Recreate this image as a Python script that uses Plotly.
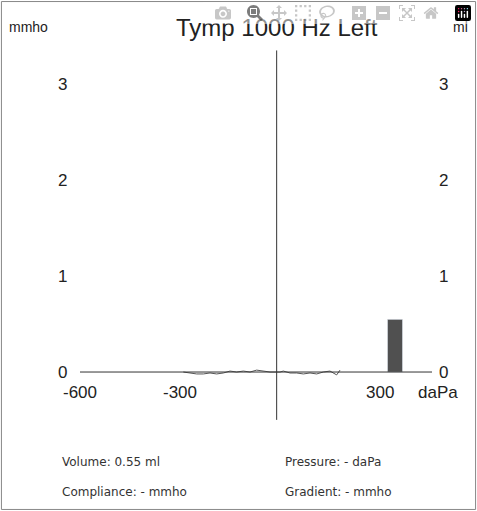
import plotly.graph_objects as go

# trace near baseline (daPa, mmho)
pressure = [-290, -270, -250, -230, -210, -190, -170, -150, -130, -110, -90, -70, -50, -30, -10, 0,
            10, 30, 50, 70, 90, 110, 130, 150, 170, 180]
compliance = [0.0, -0.01, -0.02, -0.02, -0.01, -0.02, -0.01, 0.01, 0.0, 0.01, 0.0, 0.02, 0.01, 0.0, 0.0, 0.0,
              0.01, -0.01, -0.01, -0.02, -0.01, -0.02, 0.0, 0.01, -0.03, 0.02]
volume_x = [345]
volume_ml = [0.55]
y_ticks = [0, 1, 2, 3]
x_ticks = [-600, -300, 300]

FONT = "Liberation Sans"
fig = go.Figure()
fig.add_trace(go.Scatter(x=pressure, y=compliance, mode='lines',
                         line=dict(color='#555555', width=1), showlegend=False))
fig.add_trace(go.Bar(x=volume_x, y=volume_ml, width=45, marker=dict(color='#505050'), showlegend=False))

# axis lines
fig.add_shape(type='line', x0=-600, x1=456, y0=0, y1=0, line=dict(color='#333', width=1))
fig.add_shape(type='line', x0=-10, x1=-10, y0=-0.5, y1=3.36, line=dict(color='#333', width=1))
fig.add_shape(type='rect', xref='paper', yref='paper', x0=0.003, x1=0.997, y0=0.003, y1=0.997,
              line=dict(color='#888', width=1))

for t in y_ticks:
    for xp in (-654, 490):
        fig.add_annotation(x=xp, y=t, text=str(t), showarrow=False, font=dict(size=17, color='#222', family=FONT))
for t in x_ticks:
    fig.add_annotation(x=t, y=-0.21, text=str(t), showarrow=False, font=dict(size=17, color='#222', family=FONT))
fig.add_annotation(x=408, y=-0.21, text='daPa', showarrow=False, xanchor='left', font=dict(size=17, color='#222', family=FONT))

fig.add_annotation(x=-819, y=3.6, text='mmho', showarrow=False, xanchor='left', font=dict(size=14, color='#222', family=FONT))
fig.add_annotation(x=570, y=3.6, text='ml', showarrow=False, xanchor='right', font=dict(size=14, color='#222', family=FONT))
fig.add_annotation(x=-10, y=3.6, text='Tymp 1000 Hz Left', showarrow=False, font=dict(size=24, color='#222', family=FONT))

for txt, xp, yp in [('Volume: 0.55 ml', -660, -0.94), ('Compliance: - mmho', -660, -1.25),
                    ('Pressure: - daPa', 8, -0.94), ('Gradient: - mmho', 8, -1.25)]:
    fig.add_annotation(x=xp, y=yp, text=txt, showarrow=False, xanchor='left',
                       font=dict(size=12, color='#333', family="DejaVu Sans"))

fig.update_xaxes(range=[-840, 591], visible=False)
fig.update_yaxes(range=[-1.452, 3.887], visible=False)
fig.update_layout(width=477, height=511, margin=dict(l=0, r=0, t=0, b=0),
                  plot_bgcolor='white', paper_bgcolor='white')
fig.write_html("out.html", post_script="document.body.style.margin='0';document.body.style.overflow='hidden';")
